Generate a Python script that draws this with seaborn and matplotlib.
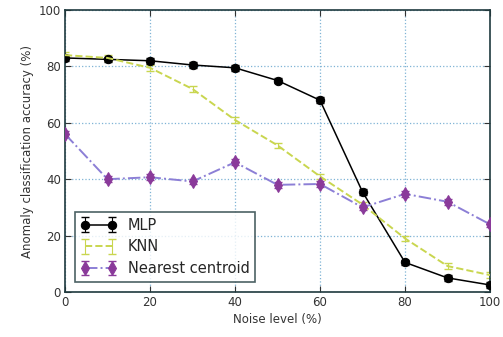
import numpy as np
import pandas as pd
import matplotlib
matplotlib.use("Agg")
import matplotlib.pyplot as plt
import seaborn as sns
from matplotlib.legend_handler import HandlerTuple

noise = [0, 10, 20, 30, 40, 50, 60, 70, 80, 90, 100]
mlp = [83, 82.5, 82, 80.5, 79.5, 75, 68, 35.5, 10.5, 5, 2.5]
knn = [84, 83, 79.5, 72, 61, 52, 41, 31, 19, 9.2, 6]
nc = [56, 40, 40.7, 39.2, 46, 38, 38.3, 30, 34.8, 32, 24]
err = [1.0] * len(noise)

series = [
    ("MLP", mlp, "black", "black", "o", "-", 6),
    ("KNN", knn, "#c9d64f", "#c9d64f", "", "--", 6),
    ("Nearest centroid", nc, "#8a3a9a", "#8c7fd6", "d", "-.", 7.5),
]

sns.set_theme(style="white")
plt.rcParams['font.family'] = ['DejaVu Sans']

fig = plt.figure(figsize=(5.03, 3.37), dpi=100)
ax = fig.add_axes([65/503, 1-292/337, (490-65)/503, (292-10)/337])

handles = []
labels = []
for name, vals, mcol, lcol, mk, ls, ms in series:
    df = pd.DataFrame({"x": noise, "y": vals})
    sns.lineplot(data=df, x="x", y="y", ax=ax, color=lcol, linestyle=ls,
                 linewidth=1.1 if name == "MLP" else 1.4, legend=False, zorder=3)
    line = ax.lines[-1]
    if mk:
        line.set_marker(mk)
        line.set_markersize(ms)
        line.set_markerfacecolor(mcol)
        line.set_markeredgecolor(mcol)
    eb = ax.errorbar(noise, vals, yerr=err, fmt="none", ecolor=mcol,
                     capsize=3, elinewidth=0.8, zorder=2)
    handles.append((eb, line))
    labels.append(name)

ax.set_xlim(0, 100)
ax.set_ylim(0, 100)
ax.set_xticks(np.arange(0, 101, 20))
ax.set_yticks(np.arange(0, 101, 20))
ax.grid(True, color="#7fb3d5", linestyle=":", linewidth=0.9)
for s in ax.spines.values():
    s.set_color("#1f3a3e")
    s.set_linewidth(1.2)
ax.tick_params(axis="both", labelsize=8.5, colors="#333333", direction="in",
               length=4, width=0.8, pad=3, bottom=True, left=True, top=True, right=True)
ax.set_xlabel("Noise level (%)", fontsize=8.5, color="#333333", labelpad=3)
ax.set_ylabel("Anomaly classification accuracy (%)", fontsize=8.5, color="#333333", labelpad=3)

leg = ax.legend(handles, labels, loc="lower left", fontsize=10.5, numpoints=2,
                frameon=True, fancybox=False, borderaxespad=0.7,
                handlelength=2.4, labelspacing=0.45, borderpad=0.4,
                handler_map={tuple: HandlerTuple(ndivide=1)})
leg.get_frame().set_edgecolor("#1f3a3e")
leg.get_frame().set_linewidth(1.2)

fig.savefig("out.png", dpi=100)
